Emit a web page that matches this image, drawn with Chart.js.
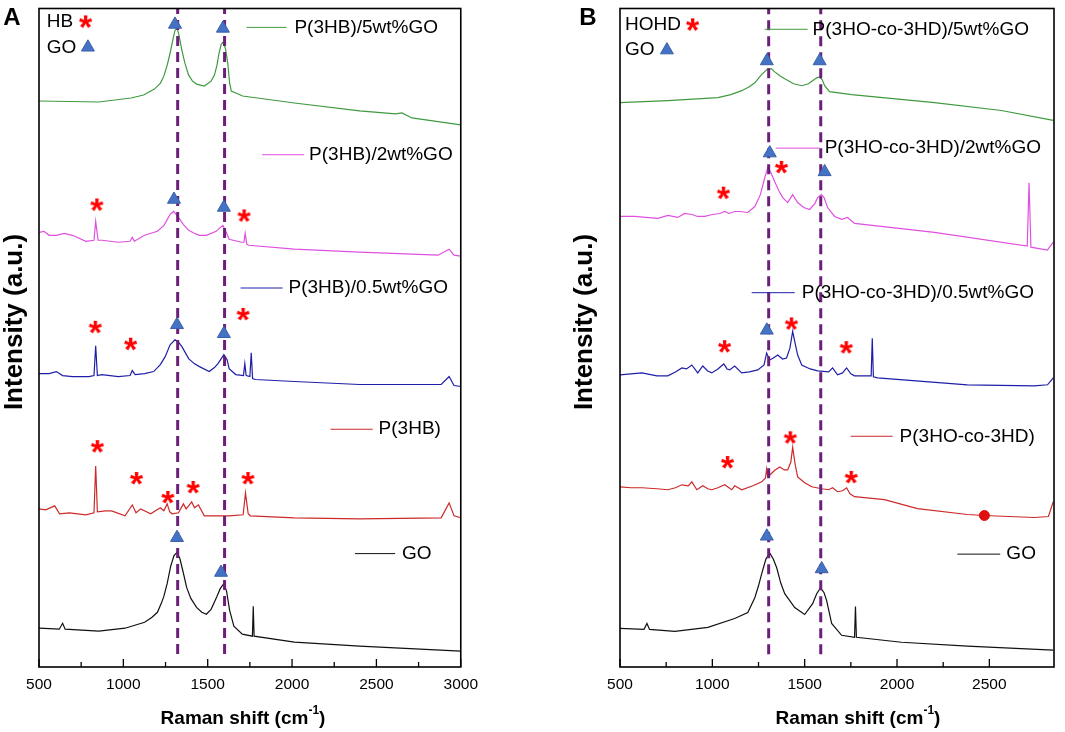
<!DOCTYPE html>
<html lang="en">
<head>
<meta charset="UTF-8" />
<title>Raman spectra - P(3HB) and P(3HO-co-3HD) with GO</title>
<style>
  body { margin: 0; background: #fff; width: 1065px; height: 732px; overflow: hidden; position: relative; }
  canvas { position: absolute; top: 0; }
  #chartA { left: 0; }
  #chartB { left: 535px; }
</style>
</head>
<body>
<canvas id="chartA" width="486" height="732"></canvas>
<canvas id="chartB" width="530" height="732"></canvas>

<script src="https://cdn.jsdelivr.net/npm/chart.js"></script>
<script>
// ---- tick labels / axis ranges ----
const tickLabelsA = [500, 1000, 1500, 2000, 2500, 3000];
const tickLabelsB = [500, 1000, 1500, 2000, 2500];

// ---- Panel A spectra: [Raman shift (cm-1), intensity (a.u., offset stacked)] ----
const a_go = [[500,39],[620,38],[640,44],[655,38],[854,36],[1010,39],[1126,45],[1170,50],[1202,55],[1225,64],
  [1240,71],[1260,84],[1280,101],[1300,112],[1318,115],[1335,109],[1355,95],[1375,80],[1400,69],[1434,60],
  [1465,55],[1492,53],[1520,58],[1550,69],[1575,79],[1596,84],[1612,76],[1630,57],[1655,41],[1705,33],
  [1765,31],[1770,61],[1775,31],[2014,25],[2400,21],[3000,16]];
const a_p3hb = [[500,159],[540,158],[593,162],[622,154],[680,155],[778,153],[826,155],[836,202],[846,156],[894,157],
  [930,157],[1010,152],[1053,163],[1075,155],[1103,159],[1162,154],[1219,160],[1240,157],[1260,164],[1275,156],
  [1289,154],[1327,155],[1356,164],[1372,159],[1387,162],[1405,166],[1422,160],[1445,163],[1480,152],[1627,152],
  [1710,153],[1724,175],[1740,154],[1753,152],[2014,150],[2400,149],[2884,150],[2931,165],[2960,152],[3000,150]];
const a_go05 = [[500,295],[560,295],[603,297],[640,293],[698,292],[796,292],[826,293],[836,323],[846,293],[873,294],
  [970,292],[1040,293],[1053,298],[1070,294],[1126,295],[1180,297],[1219,304],[1248,312],[1277,324],[1306,329],
  [1325,327],[1347,322],[1387,310],[1420,305],[1451,302],[1509,297],[1540,301],[1561,305],[1596,314],[1615,309],
  [1627,300],[1666,294],[1712,293],[1720,305],[1728,293],[1750,292],[1758,316],[1766,290],[1782,289],[2014,287],
  [2400,284],[2884,284],[2931,292],[2960,283],[3000,282]];
const a_go2 = [[500,437],[530,438],[560,434],[603,434],[650,436],[698,434],[778,428],[826,429],[836,448],[850,429],
  [873,429],[970,427],[1040,428],[1053,432],[1065,428],[1126,434],[1202,438],[1241,444],[1277,455],[1298,458],
  [1327,452],[1355,445],[1387,439],[1420,436],[1451,434],[1492,434],[1550,438],[1575,442],[1590,444],[1610,437],
  [1627,430],[1700,427],[1715,427],[1722,436],[1732,425],[1743,424],[2014,420],[2400,417],[2866,414],[2931,420],
  [2960,414],[3000,413]];
const a_go5 = [[500,569],[854,568],[1046,572],[1120,575],[1184,581],[1220,587],[1240,594],[1260,605],[1277,617],[1295,632],
  [1306,640],[1318,643],[1330,635],[1347,620],[1365,607],[1387,595],[1410,589],[1434,586],[1480,584],[1520,589],
  [1540,595],[1555,605],[1567,617],[1580,626],[1590,628],[1605,622],[1619,607],[1630,587],[1640,579],[1707,574],
  [2014,567],[2400,559],[2613,556],[2652,557],[2710,552],[3000,545]];

// ---- Panel B spectra ----
const b_go = [[500,39],[630,38],[646,44],[660,38],[797,36],[976,40],[1121,49],[1192,55],[1230,70],[1250,82],
  [1267,94],[1290,109],[1311,115],[1330,109],[1349,100],[1370,85],[1392,74],[1446,60],[1500,53],[1543,64],
  [1565,74],[1586,80],[1605,75],[1619,67],[1646,44],[1700,32],[1770,30],[1775,61],[1780,30],[2024,25],
  [2381,21],[2846,17]];
const b_phd = [[500,182],[560,181],[619,181],[700,180],[759,179],[800,181],[835,184],[870,183],[889,187],[916,179],
  [948,183],[975,180],[997,179],[1030,181],[1067,184],[1090,181],[1105,179],[1121,183],[1159,179],[1220,183],
  [1267,187],[1288,191],[1294,200],[1300,193],[1311,194],[1340,199],[1365,202],[1390,199],[1408,199],[1425,207],
  [1435,222],[1448,205],[1462,192],[1500,186],[1538,182],[1592,180],[1630,179],[1651,181],[1678,177],[1705,178],
  [1727,181],[1745,175],[1770,172],[1932,169],[2111,160],[2381,154],[2473,153],[2743,151],[2820,152],[2846,167]];
const b_go05 = [[500,295],[560,296],[619,297],[700,294],[759,294],[800,298],[835,302],[860,301],[889,305],[921,297],
  [948,304],[975,299],[997,297],[1030,301],[1062,306],[1080,301],[1094,300],[1121,304],[1159,297],[1200,298],
  [1246,300],[1280,305],[1294,317],[1311,310],[1330,312],[1354,315],[1380,311],[1402,312],[1420,322],[1435,339],
  [1448,327],[1462,315],[1484,305],[1530,301],[1570,299],[1630,298],[1651,302],[1678,295],[1705,297],[1727,302],
  [1750,296],[1770,294],[1860,294],[1866,332],[1872,293],[1895,292],[2381,285],[2743,284],[2815,285],[2846,292]];
const b_go2 = [[500,455],[581,455],[640,454],[705,453],[760,456],[813,454],[850,458],[889,457],[920,455],[959,455],
  [1000,457],[1040,458],[1067,460],[1090,458],[1121,460],[1150,460],[1192,459],[1230,465],[1260,477],[1285,495],
  [1300,504],[1315,500],[1338,490],[1360,481],[1381,474],[1408,469],[1425,474],[1435,477],[1448,473],[1462,469],
  [1495,464],[1527,462],[1555,468],[1570,474],[1590,477],[1605,474],[1624,464],[1662,455],[1700,452],[1732,454],
  [1770,448],[2203,439],[2705,425],[2715,489],[2725,424],[2814,421],[2846,429]];
const b_go5 = [[500,570],[759,572],[1030,575],[1100,578],[1159,582],[1200,586],[1230,590],[1265,598],[1300,604],[1320,604],
  [1338,601],[1365,597],[1392,594],[1440,589],[1484,587],[1520,589],[1543,592],[1565,595],[1581,596],[1595,593],
  [1608,587],[1635,581],[1754,578],[2203,570],[2565,562],[2846,552]];

// ---- D / G band positions (dashed guides) ----
const bandsA = [1322, 1600];
const bandsB = [1305, 1587];

// ---- peak markers ----
const starsA = [[845,465],[1718,454],[836,342],[1045,325],[1712,355],[848,222],[1080,190],[1266,171],[1416,181],[1741,190]];
const trisA  = [[1306,646],[1590,642],[1300,470],[1596,462],[1318,344],[1596,335],[1318,130],[1579,95]];
const starsB = [[1376,505],[1062,479],[1068,324],[1430,347],[1727,323],[1084,207],[1424,232],[1754,192]];
const trisB  = [[1295,612],[1581,612],[1311,519],[1608,500],[1295,340],[1295,132],[1592,99]];
const dotB   = [[2473,153]];

// ---- legend entries ----
const seriesA = ['P(3HB)/5wt%GO', 'P(3HB)/2wt%GO', 'P(3HB)/0.5wt%GO', 'P(3HB)', 'GO'];
const seriesB = ['P(3HO-co-3HD)/5wt%GO', 'P(3HO-co-3HD)/2wt%GO', 'P(3HO-co-3HD)/0.5wt%GO', 'P(3HO-co-3HD)', 'GO'];
const colors = ['#3f9a3f', '#e050e0', '#1e1ea8', '#cc2a2a', '#111111'];

const FONT = '"Liberation Sans", Arial, sans-serif';
const toXY = arr => arr.map(p => ({ x: p[0], y: p[1] }));

// red asterisk used for the HB / HOHD peaks
function makeStar() {
  const c = document.createElement('canvas');
  c.width = c.height = 18;
  const g = c.getContext('2d');
  g.fillStyle = '#ff0000';
  g.font = 'bold 34px ' + FONT;
  const m = g.measureText('*');
  const w = m.actualBoundingBoxLeft + m.actualBoundingBoxRight;
  const h = m.actualBoundingBoxAscent + m.actualBoundingBoxDescent;
  g.fillText('*', 9 - w / 2 + m.actualBoundingBoxLeft, 9 - h / 2 + m.actualBoundingBoxAscent);
  return c;
}
const starImg = makeStar();

function drawTri(ctx, x, y, r) {
  ctx.beginPath();
  ctx.moveTo(x, y - r);
  ctx.lineTo(x + r * 0.866, y + r / 2);
  ctx.lineTo(x - r * 0.866, y + r / 2);
  ctx.closePath();
  ctx.fillStyle = '#4472c4';
  ctx.strokeStyle = '#3a60a8';
  ctx.lineWidth = 1;
  ctx.fill();
  ctx.stroke();
}

// frame, inward ticks, titles, legends
const decor = {
  id: 'decor',
  afterDraw(chart, args, o) {
    const { ctx, chartArea: ca, scales: { x, y } } = chart;
    ctx.save();
    ctx.strokeStyle = '#000';
    ctx.lineWidth = 1.6;
    ctx.strokeRect(ca.left, ca.top, ca.right - ca.left, ca.bottom - ca.top);
    ctx.lineWidth = 1.3;
    x.ticks.forEach(t => {
      if (t.value % 250 !== 0) return;
      const px = x.getPixelForValue(t.value);
      const len = t.value % 500 === 0 ? 8 : 5;
      ctx.beginPath();
      ctx.moveTo(px, ca.bottom);
      ctx.lineTo(px, ca.bottom - len);
      ctx.stroke();
    });

    ctx.fillStyle = '#000';
    // panel letter
    ctx.font = 'bold 24px ' + FONT;
    ctx.textAlign = 'center';
    ctx.textBaseline = 'middle';
    ctx.fillText(o.letter, o.letterPos[0], o.letterPos[1]);

    // y title
    ctx.save();
    ctx.translate(o.yTitlePos[0], o.yTitlePos[1]);
    ctx.rotate(-Math.PI / 2);
    ctx.font = 'bold 26px ' + FONT;
    ctx.fillText('Intensity (a.u.)', 0, 0);
    ctx.restore();

    // x title with superscript
    ctx.font = 'bold 19px ' + FONT;
    const p1 = 'Raman shift (cm', sup = '-1', p2 = ')';
    const w1 = ctx.measureText(p1).width, w3 = ctx.measureText(p2).width;
    ctx.font = 'bold 12px ' + FONT;
    const w2 = ctx.measureText(sup).width;
    let sx = o.xTitlePos[0] - (w1 + w2 + w3) / 2;
    const sy = o.xTitlePos[1];
    ctx.textAlign = 'left';
    ctx.font = 'bold 19px ' + FONT;
    ctx.fillText(p1, sx, sy);
    ctx.font = 'bold 12px ' + FONT;
    ctx.fillText(sup, sx + w1, sy - 8);
    ctx.font = 'bold 19px ' + FONT;
    ctx.fillText(p2, sx + w1 + w2, sy);

    // series legend: short line + label
    ctx.font = '19px ' + FONT;
    o.legend.forEach((L, i) => {
      const yy = y.getPixelForValue(L.y);
      ctx.strokeStyle = colors[i];
      ctx.lineWidth = 1;
      ctx.beginPath();
      ctx.moveTo(x.getPixelForValue(L.x1), yy);
      ctx.lineTo(x.getPixelForValue(L.x2), yy);
      ctx.stroke();
      ctx.fillStyle = '#000';
      ctx.fillText(o.names[i], x.getPixelForValue(L.tx), yy);
    });

    // marker key
    ctx.font = '19px ' + FONT;
    const k = o.key;
    ctx.fillText(k.name, x.getPixelForValue(k.tx), y.getPixelForValue(k.y1));
    ctx.fillText('GO', x.getPixelForValue(k.tx), y.getPixelForValue(k.y2));
    ctx.drawImage(starImg, x.getPixelForValue(k.sx) - 9, y.getPixelForValue(k.y1) - 9);
    drawTri(ctx, x.getPixelForValue(k.gx), y.getPixelForValue(k.y2), 7.5);
    ctx.restore();
  }
};

function buildChart(id, cfg) {
  const datasets = [];
  cfg.spectra.forEach((s, i) => datasets.push({
    type: 'line', data: toXY(s), borderColor: colors[i], borderWidth: 1.2,
    pointRadius: 0, tension: 0, order: 3
  }));
  cfg.bands.forEach(b => datasets.push({
    type: 'line', data: [{ x: b, y: 13 }, { x: b, y: cfg.ymax }],
    borderColor: '#6c1f78', borderWidth: 3, borderDash: [10, 6],
    pointRadius: 0, order: 2
  }));
  datasets.push({
    type: 'scatter', data: toXY(cfg.tris), pointStyle: 'triangle', pointRadius: 7.5,
    backgroundColor: '#4472c4', borderColor: '#3a60a8', borderWidth: 1, order: 1
  });
  datasets.push({
    type: 'scatter', data: toXY(cfg.stars), pointStyle: starImg, order: 0
  });
  if (cfg.dots) datasets.push({
    type: 'scatter', data: toXY(cfg.dots), pointRadius: 5,
    backgroundColor: '#e01010', borderColor: '#e01010', order: 0
  });

  return new Chart(document.getElementById(id), {
    data: { datasets },
    plugins: [decor],
    options: {
      responsive: false,
      animation: false,
      events: [],
      layout: { padding: cfg.padding },
      scales: {
        x: {
          type: 'linear', min: 500, max: cfg.xmax,
          grid: { display: false, drawTicks: false },
          border: { display: false },
          afterFit: s => { s.height = 65; },
          ticks: {
            stepSize: 250, autoSkip: false, maxRotation: 0, padding: 8,
            color: '#000', font: { family: FONT, size: 15.5 },
            callback: v => cfg.tickLabels.includes(v) ? String(v) : ''
          }
        },
        y: {
          min: 0, max: cfg.ymax,
          grid: { display: false, drawTicks: false },
          border: { display: false },
          ticks: { display: false },
          afterFit: s => { s.width = cfg.yWidth; }
        }
      },
      plugins: {
        legend: { display: false },
        tooltip: { enabled: false },
        decor: cfg.decor
      }
    }
  });
}

buildChart('chartA', {
  spectra: [a_go5, a_go2, a_go05, a_p3hb, a_go],
  bands: bandsA, tris: trisA, stars: starsA,
  xmax: 3000, ymax: 662, yWidth: 39, tickLabels: tickLabelsA,
  padding: { top: 5, right: 16, left: 0, bottom: 0 },
  decor: {
    letter: 'A', letterPos: [12, 18], yTitlePos: [15, 322], xTitlePos: [243, 719],
    names: seriesA,
    legend: [
      { x1: 1730, x2: 1967, tx: 2014, y: 643 },
      { x1: 1822, x2: 2072, tx: 2101, y: 515 },
      { x1: 1695, x2: 1944, tx: 1979, y: 381 },
      { x1: 2228, x2: 2478, tx: 2513, y: 239 },
      { x1: 2373, x2: 2611, tx: 2652, y: 114 }
    ],
    key: { name: 'HB', tx: 546, sx: 778, gx: 790, y1: 649, y2: 623 }
  }
});

buildChart('chartB', {
  spectra: [b_go5, b_go2, b_go05, b_phd, b_go],
  bands: bandsB, tris: trisB, stars: starsB, dots: dotB,
  xmax: 2850, ymax: 665, yWidth: 85, tickLabels: tickLabelsB,
  padding: { top: 2, right: 11, left: 0, bottom: 0 },
  decor: {
    letter: 'B', letterPos: [53, 18], yTitlePos: [50, 322], xTitlePos: [323, 719],
    names: seriesB,
    legend: [
      { x1: 1284, x2: 1516, tx: 1543, y: 644 },
      { x1: 1343, x2: 1581, tx: 1608, y: 524 },
      { x1: 1213, x2: 1446, tx: 1484, y: 378 },
      { x1: 1749, x2: 1976, tx: 2014, y: 233 },
      { x1: 2327, x2: 2559, tx: 2592, y: 114 }
    ],
    key: { name: 'HOHD', tx: 527, sx: 895, gx: 754, y1: 649, y2: 623 }
  }
});
</script>
</body>
</html>
